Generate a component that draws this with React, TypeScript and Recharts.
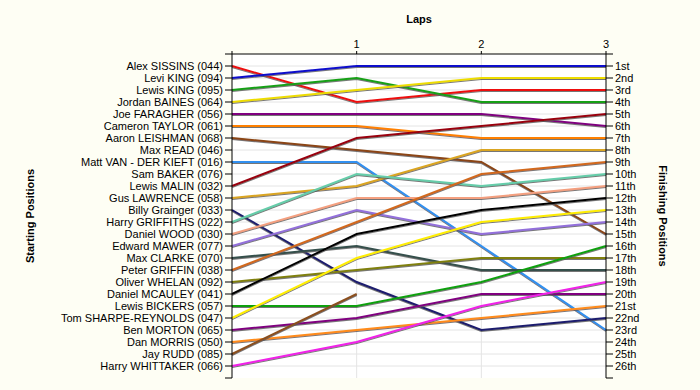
import { CartesianGrid, Line, LineChart, XAxis, YAxis } from "recharts";

const FONT = '"Liberation Sans", Arial, sans-serif';

const laps = [0, 1, 2, 3];

// starting grid order (left axis labels)
const drivers = [
  "Alex SISSINS (044)",
  "Levi KING (094)",
  "Lewis KING (095)",
  "Jordan BAINES (064)",
  "Joe FARAGHER (056)",
  "Cameron TAYLOR (061)",
  "Aaron LEISHMAN (068)",
  "Max READ (046)",
  "Matt VAN - DER KIEFT (016)",
  "Sam BAKER (076)",
  "Lewis MALIN (032)",
  "Gus LAWRENCE (058)",
  "Billy Grainger (033)",
  "Harry GRIFFITHS (022)",
  "Daniel WOOD (030)",
  "Edward MAWER (077)",
  "Max CLARKE (070)",
  "Peter GRIFFIN (038)",
  "Oliver WHELAN (092)",
  "Daniel MCAULEY (041)",
  "Lewis BICKERS (057)",
  "Tom SHARPE-REYNOLDS (047)",
  "Ben MORTON (065)",
  "Dan MORRIS (050)",
  "Jay RUDD (085)",
  "Harry WHITTAKER (066)",
];

const driverColors = [
  "#ee1111", "#0a0acc", "#18a018", "#eedd00", "#800080", "#ff8000",
  "#8b4513", "#999999", "#3090f0", "#999999", "#990011", "#daa520",
  "#1c1c6e", "#66cdaa", "#f4a080", "#9370db", "#35504c", "#d2691e",
  "#808010", "#000000", "#0da00d", "#ffee00", "#800080", "#ff8c1a",
  "#8b4f1f", "#f020e8",
];

// positions per lap, same order as drivers (null = not running)
const startPos = [1, 2, 3, 4, 5, 6, 7, null, 9, null, 11, 12, 13, 14, 15, 16, 17, 18, 19, 20, 21, 22, 23, 24, 25, 26];
const lap1Pos = [4, 1, 2, 3, 5, 6, 8, null, 9, null, 7, 11, 19, 10, 12, 13, 16, 14, 18, 15, 21, 17, 22, 23, 20, 24];
const lap2Pos = [3, 1, 4, 2, 5, 7, 9, null, 16, null, 6, 8, 23, 11, 12, 15, 18, 10, 17, 13, 19, 14, 20, 22, null, 21];
const lap3Pos = [3, 1, 4, 2, 6, 7, 15, null, 23, null, 5, 8, 22, 10, 11, 14, 18, 9, 17, 12, 16, 13, 20, 21, null, 19];

const finishLabels = [
  "1st", "2nd", "3rd", "4th", "5th", "6th", "7th", "8th", "9th", "10th",
  "11th", "12th", "13th", "14th", "15th", "16th", "17th", "18th", "19th", "20th",
  "21st", "22nd", "23rd", "24th", "25th", "26th",
];

const positionTicks = Array.from({ length: 28 }, (_, i) => i);
const gridPositions = positionTicks.slice(1, 27);

const lapRows = [startPos, lap1Pos, lap2Pos, lap3Pos];
const data = laps.map((lap, li) => {
  const row: Record<string, number | null> = { lap };
  drivers.forEach((_, di) => {
    row[`d${di}`] = lapRows[li][di];
  });
  return row;
});

const tickStyle = { fill: "#000", fontSize: 11, fontFamily: FONT };
const titleStyle = { fill: "#000", fontSize: 11, fontWeight: "bold", fontFamily: FONT, textAnchor: "middle" as const };

export default function App() {
  return (
    <div style={{ position: "absolute", left: 0, top: 0, width: 700, height: 390, background: "#fefef4" }}>
      <style>{`.recharts-line-curve { filter: url(#lapShadow); }`}</style>
      <svg width={0} height={0} style={{ position: "absolute" }}>
        <defs>
          <filter id="lapShadow" filterUnits="userSpaceOnUse" x={0} y={0} width={700} height={390}>
            <feDropShadow dx={0} dy={1} stdDeviation={0} floodColor="#555" floodOpacity={0.8} />
          </filter>
        </defs>
      </svg>
      <LineChart width={700} height={390} data={data} margin={{ top: 14, right: 8, bottom: 12, left: 8 }}>
        <CartesianGrid
          yAxisId="left"
          stroke="#e4e4e4"
          fill="#ffffff"
          horizontalValues={gridPositions}
          verticalValues={[1, 2]}
        />
        <XAxis
          dataKey="lap"
          type="number"
          orientation="top"
          domain={[0, 3]}
          ticks={laps}
          interval={0}
          height={40}
          tickSize={3}
          tickMargin={3}
          tickFormatter={(v) => (v === 0 ? "" : String(v))}
          axisLine={{ stroke: "#000" }}
          tickLine={{ stroke: "#000" }}
          tick={tickStyle}
          label={{ value: "Laps", position: "insideTop", offset: 1, style: titleStyle }}
        />
        <YAxis
          yAxisId="left"
          type="number"
          domain={[0, 27]}
          reversed
          width={224}
          ticks={positionTicks}
          interval={0}
          tickSize={7}
          tickMargin={2}
          tickFormatter={(v) => drivers[v - 1] ?? ""}
          axisLine={{ stroke: "#000" }}
          tickLine={{ stroke: "#000" }}
          tick={tickStyle}
          label={{ value: "Starting Positions", angle: -90, position: "insideLeft", offset: 22, style: titleStyle }}
        />
        <YAxis
          yAxisId="right"
          orientation="right"
          type="number"
          domain={[0, 27]}
          reversed
          width={86}
          ticks={positionTicks}
          interval={0}
          tickSize={7}
          tickMargin={2}
          tickFormatter={(v) => finishLabels[v - 1] ?? ""}
          axisLine={{ stroke: "#000" }}
          tickLine={{ stroke: "#000" }}
          tick={tickStyle}
          label={{ value: "Finishing Positions", angle: 90, position: "insideRight", offset: 29, style: titleStyle }}
        />
        {drivers.map((name, di) => (
          <Line
            key={name}
            // both axes share the same 0..27 scale; odd rows sit on the right one so it gets a domain
            yAxisId={di % 2 === 0 ? "left" : "right"}
            type="linear"
            dataKey={`d${di}`}
            name={name}
            stroke={driverColors[di]}
            strokeWidth={2}
            dot={false}
            activeDot={false}
            connectNulls={false}
            isAnimationActive={false}
          />
        ))}
      </LineChart>
    </div>
  );
}
